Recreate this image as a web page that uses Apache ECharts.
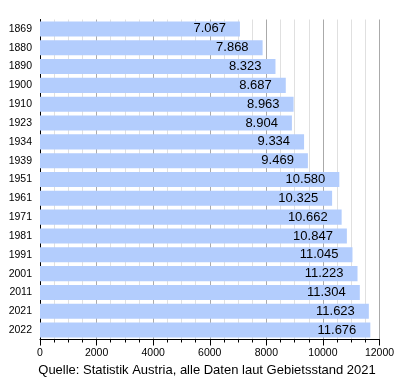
<!DOCTYPE html>
<html>
<head>
<meta charset="utf-8">
<script src="https://cdn.jsdelivr.net/npm/echarts@6/dist/echarts.min.js"></script>
<style>html,body{margin:0;padding:0;background:#fff}#c{width:400px;height:380px}</style>
</head>
<body>
<div id="c"></div>
<script>
var years = ['1869','1880','1890','1900','1910','1923','1934','1939','1951','1961','1971','1981','1991','2001','2011','2021','2022'];
var values = [7067,7868,8323,8687,8963,8904,9334,9469,10580,10325,10662,10847,11045,11223,11304,11623,11676];
var xTicks = [0,2000,4000,6000,8000,10000,12000];
var caption = 'Quelle: Statistik Austria, alle Daten laut Gebietsstand 2021';

function fmt(v){
  var t = Math.floor(v/1000), r = v % 1000;
  return t + '.' + String(r).padStart(3,'0');
}
var FONT = 'Liberation Sans';
var chart = echarts.init(document.getElementById('c'));
chart.setOption({
  animation: false,
  backgroundColor: '#fff',
  grid: {left: 40, right: 20.5, top: 19.5, bottom: 40.5, containLabel: false},
  xAxis: {
    type: 'value', min: xTicks[0], max: xTicks[xTicks.length-1], interval: 2000,
    axisLine: {show: true, onZero: false, lineStyle: {color: '#000', width: 1}},
    axisTick: {show: true, length: 6, lineStyle: {color: '#000'}},
    minorTick: {show: true, splitNumber: 4, length: 3, lineStyle: {color: '#000'}},
    splitLine: {show: true, lineStyle: {color: '#aaaaaa', width: 1}},
    minorSplitLine: {show: true, lineStyle: {color: '#e0e0e0', width: 1}},
    axisLabel: {color: '#000', fontSize: 10.5, fontFamily: FONT, margin: 8,
      formatter: function(v){ return String(v); }}
  },
  yAxis: {
    type: 'category', data: years, inverse: true,
    axisLine: {show: true, lineStyle: {color: '#000', width: 1}},
    axisTick: {show: false},
    splitLine: {show: false},
    axisLabel: {color: '#000', fontSize: 10.5, fontFamily: FONT, margin: 8}
  },
  series: [{
    type: 'bar', data: values, barCategoryGap: '20%',
    itemStyle: {color: '#b3cdfd'},
    label: {
      show: true, position: 'insideRight', distance: 14,
      color: '#000', fontSize: 13, fontFamily: FONT,
      formatter: function(p){ return fmt(p.value); }
    }
  }],
  graphic: [{
    type: 'text', x: 207, y: 370,
    style: {text: caption, fill: '#000', fontSize: 13, fontFamily: FONT, align: 'center', verticalAlign: 'middle'}
  }]
});
</script>
</body>
</html>
